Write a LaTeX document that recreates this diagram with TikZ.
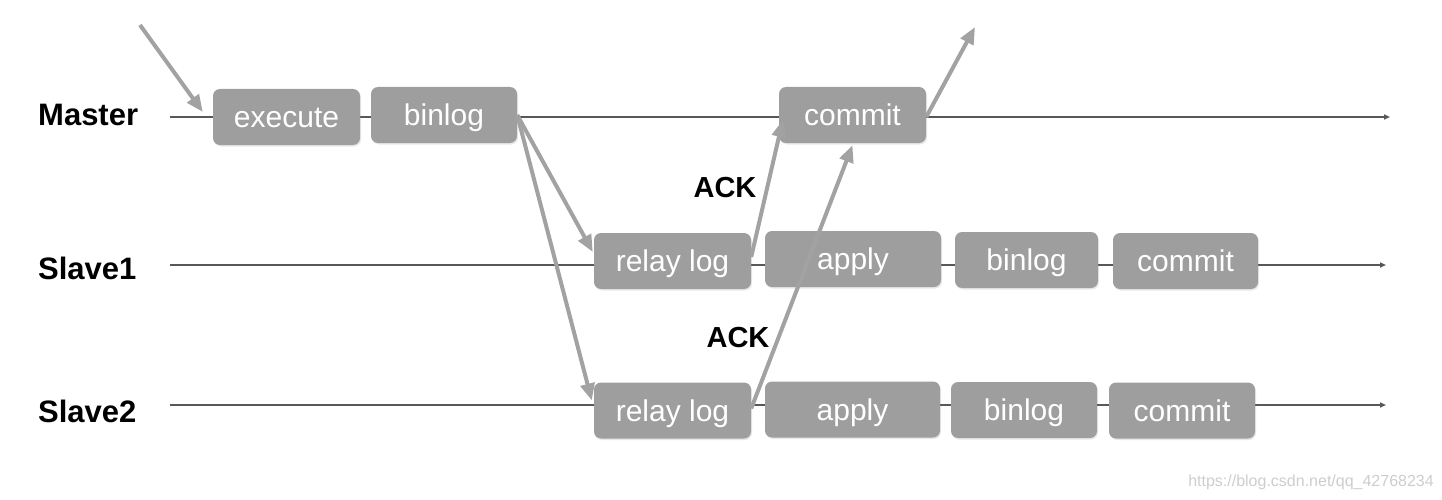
\documentclass[tikz,border=0pt]{standalone}
\usepackage{fontspec}
\setmainfont{Liberation Sans}
\usetikzlibrary{arrows.meta,shadows}
\definecolor{boxgray}{RGB}{158,158,158}
\definecolor{linegray}{RGB}{88,88,88}
\definecolor{arrgray}{RGB}{162,162,162}
\definecolor{wmgray}{RGB}{205,205,205}
\tikzset{
  stagebox/.style={rectangle, rounded corners=7pt, fill=boxgray, draw=none,
    text=white, inner sep=0pt, minimum height=56pt,
    text height=21.5pt, text depth=0pt,
    font=\fontsize{30}{34}\selectfont,
    drop shadow={opacity=0.18, shadow xshift=1pt, shadow yshift=-1.5pt}},
  timeline/.style={draw=linegray, line width=2.6pt, -{Triangle[length=6pt,width=5pt]}},
  msgarrow/.style={draw=arrgray, line width=4pt, -{Triangle[length=17pt,width=14pt]}},
  rowlabel/.style={anchor=west, inner sep=0pt, font=\fontsize{31}{35}\selectfont\bfseries},
  acklabel/.style={inner sep=0pt, font=\fontsize{29}{33}\selectfont\bfseries},
}
\begin{document}
\begin{tikzpicture}[x=1pt,y=-1pt]
\useasboundingbox (0,0) rectangle (1442,500);
% timelines
\coordinate (ms) at (170,117); \coordinate (me) at (1390,117);
\coordinate (s1s) at (170,265); \coordinate (s1e) at (1386,265);
\coordinate (s2s) at (170,405); \coordinate (s2e) at (1386,405);
\draw[timeline] (ms) -- (me);
\draw[timeline] (s1s) -- (s1e);
\draw[timeline] (s2s) -- (s2e);
% master boxes
\node[stagebox, minimum width=147pt] (ex) at (286.5,117) {execute};
\node[stagebox, minimum width=146pt] (bm) at (444,115) {binlog};
\node[stagebox, minimum width=147pt] (cm) at (852.5,115) {commit};
% slave1 boxes
\node[stagebox, minimum width=157pt] (r1) at (672.5,261) {relay log};
\node[stagebox, minimum width=176pt] (a1) at (853,259) {apply};
\node[stagebox, minimum width=143pt] (b1) at (1026.5,260) {binlog};
\node[stagebox, minimum width=145pt] (c1) at (1185.5,261) {commit};
% slave2 boxes
\node[stagebox, minimum width=157pt] (r2) at (672.5,410.5) {relay log};
\node[stagebox, minimum width=175pt] (a2) at (852.5,409.5) {apply};
\node[stagebox, minimum width=146pt] (b2) at (1024,410) {binlog};
\node[stagebox, minimum width=146pt] (c2) at (1182,410.5) {commit};
% labels
\node[rowlabel] (lm) at (38,115) {Master};
\node[rowlabel] (ls1) at (38,268) {Slave1};
\node[rowlabel] (ls2) at (38,411) {Slave2};
\node[acklabel] (ack1) at (725,188) {ACK};
\node[acklabel] (ack2) at (738,338) {ACK};
% arrows
\coordinate (in) at (140,25);
\coordinate (out) at (975,27);
\draw[msgarrow] (in) -- ([xshift=-10pt,yshift=5pt]ex.west);
\draw[msgarrow] ([yshift=-2pt]cm.east) -- (out);
\draw[msgarrow] (bm.east) -- ([xshift=-1pt,yshift=9pt]r1.west);
\draw[msgarrow] (bm.east) -- ([xshift=-2pt,yshift=10pt]r2.west);
\draw[msgarrow] ([yshift=4pt]r1.east) -- ([xshift=4pt,yshift=-5pt]cm.west);
\draw[msgarrow] ([yshift=2pt]r2.east) -- ([yshift=-2pt]cm.south);
% watermark
\node[text=wmgray, inner sep=0pt, font=\fontsize{16}{18}\selectfont] (wm) at (1311,482) {https://blog.csdn.net/qq\_42768234};
\end{tikzpicture}
\end{document}
